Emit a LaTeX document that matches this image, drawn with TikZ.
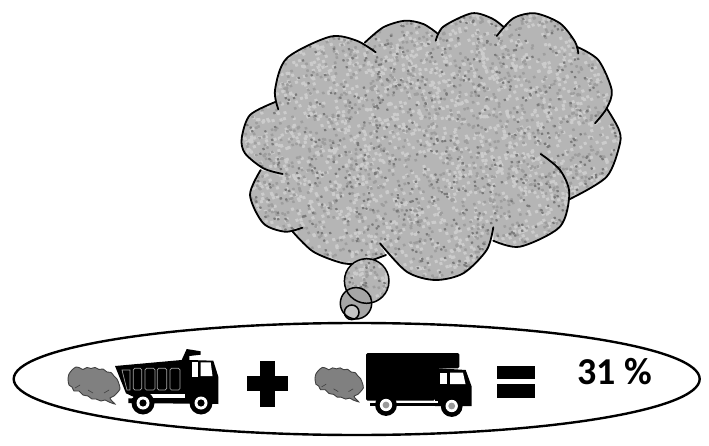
\documentclass[tikz,border=0pt]{standalone}
\usepackage{fontspec}
\usepackage{xcolor}
\usepackage{tikz}
\usetikzlibrary{shapes.geometric}
\newfontfamily\labelfont{Carlito}
\definecolor{cloudbase}{gray}{0.71}
\tikzset{
  oval/.style={ellipse, draw=black, line width=2.4pt, fill=white, minimum width=686pt, minimum height=112pt, inner sep=0pt},
  result/.style={font=\labelfont\fontsize{38}{42}\selectfont\bfseries, text=black, inner sep=0pt},
  lobe/.style={draw=black, line width=1.8pt, line cap=round},
  bubble/.style={draw=black, line width=1.5pt},
  solid black/.style={fill=black, draw=none},
  pics/smoke/.style={code={
    \draw[fill=black!50, draw=black!75, line width=0.9pt] plot[smooth cycle, tension=0.45] coordinates {(0,13) (1,8) (4,4) (8,1) (12,2) (15,3.5) (19,1.5) (23,2.5) (27,1.5) (31,3.5) (35,3) (39,6) (43,6.5) (46,10) (49,13) (51,18) (52,23) (49,27) (46,30) (42,32) (44,35) (47,38) (41,36) (37,34) (33,35) (28,33) (24,33) (20,30) (15,29) (11,25) (6,25) (4,21) (1,19)};
    \draw[black!75, line width=0.6pt] (7,22) -- (12,19) (20,24) -- (25,27) (36,27) -- (41,24);
  }},
  pics/wheel/.style={code={
    \fill[black] (0,0) circle[radius=11.5pt];
    \fill[white] (0,0) circle[radius=6.5pt];
    \fill[#1] (0,0) circle[radius=3.6pt];
  }},
}
% one grey band of round dots: x0 x1 y0 y1 count
\newcommand{\speckle}[5]{%
  \foreach \i in {1,...,#5} {
    \pgfmathsetmacro{\px}{#1+(#2-#1)*rnd}
    \pgfmathsetmacro{\py}{#3+(#4-#3)*rnd}
    \draw (\px,\py) -- ++(0.6,0.3);
  }}
\newcommand{\lobeA}{(364.7,42.7) (383.3,27.3) (405,20.7) (423.3,24) (437.3,33.3)}
\newcommand{\lobeB}{(435.7,40.7) (443.3,26.7) (471.7,13.3) (491.7,18.3) (503.3,26.7)}
\newcommand{\lobeC}{(496.7,36) (513.3,18.3) (535,13.3) (560,23.3) (575,41.7) (578.3,53.3)}
\newcommand{\lobeD}{(576.7,46.7) (598.3,60) (611.7,90) (606.7,108.3) (595,123.3)}
\newcommand{\lobeE}{(606.7,108.3) (618.3,128.3) (620,143.3) (606.7,176.7) (570,199)}
\newcommand{\lobeF}{(540.7,154) (560,170) (569.3,193.3) (560,226.7) (520,246.7) (493.3,240.7)}
\newcommand{\lobeG}{(493.3,227.3) (486.7,250) (463.3,273.3) (435,280) (406.7,271.7) (380,243.3)}
\newcommand{\lobeH}{(386,255) (363.3,262.7) (343.3,263.3) (313.3,251.7) (292.7,231.7)}
\newcommand{\lobeI}{(302.3,227.7) (285,231.7) (263.3,223.3) (250,195) (260.7,170)}
\newcommand{\lobeJ}{(282.7,174) (263.3,168.3) (245,153.3) (241.7,138.3) (250,115) (276,101.7)}
\newcommand{\lobeK}{(278.3,109.3) (275,90) (286.7,58.3) (330,36.7) (356.7,40.7) (375.7,52.3)}
\begin{document}
\begin{tikzpicture}[x=1pt, y=-1pt]
\useasboundingbox (0,0) rectangle (709,446);
\pgfmathsetseed{11}
% ---- Cloud ----
\begin{scope}
\path[clip] plot[smooth] coordinates {\lobeA} -- plot[smooth] coordinates {\lobeB} -- plot[smooth] coordinates {\lobeC}
  -- plot[smooth] coordinates {\lobeD} -- plot[smooth] coordinates {\lobeE} -- plot[smooth] coordinates {\lobeF}
  -- plot[smooth] coordinates {\lobeG} -- plot[smooth] coordinates {\lobeH} -- plot[smooth] coordinates {\lobeI}
  -- plot[smooth] coordinates {\lobeJ} -- plot[smooth] coordinates {\lobeK} -- cycle;
\fill[cloudbase] (235,5) rectangle (625,285);
\foreach \g/\w/\n in {20/3.6/2400,38/3/1500,52/2.5/800} {
  \begin{scope}[draw=black!\g, line width=\w pt, line cap=round]
  \speckle{238}{624}{10}{284}{\n}
  \end{scope}
}
\end{scope}
\foreach \l in {\lobeA,\lobeB,\lobeC,\lobeD,\lobeE,\lobeF,\lobeG,\lobeH,\lobeI,\lobeJ,\lobeK}
  \draw[lobe] plot[smooth] coordinates {\l};
% ---- Bubbles ----
\begin{scope}
\path[clip] (366.7,281) circle[radius=22.3pt];
\fill[cloudbase] (340,255) rectangle (392,306);
\foreach \g/\w/\n in {20/3.6/70,38/3/45,52/2.5/25} {
  \begin{scope}[draw=black!\g, line width=\w pt, line cap=round]
  \speckle{342}{392}{256}{306}{\n}
  \end{scope}
}
\end{scope}
\fill[black!35] (356,303.3) circle[radius=15.7pt];
\fill[black!22] (351.7,312.3) circle[radius=7.3pt];
\draw[bubble] (366.7,281) circle[radius=22.3pt];
\draw[bubble] (356,303.3) circle[radius=15.7pt];
\draw[bubble] (351.7,312.3) circle[radius=7.3pt];
% ---- Oval ----
\node[oval] (band) at (356.7,379) {};
% ---- Dump truck ----
\pic at (68,366) {smoke};
\fill[solid black] (115,366) -- (181.7,360) -- (186.7,349) -- (200.7,351.3) -- (200.7,354.7) -- (189.3,356) -- (189.3,360)
  -- (213.3,360.7) -- (218.3,376.7) -- (218.3,404) -- (128.3,403) -- (128.3,398.5) -- (136,398) -- (126,393.3) -- cycle;
\fill[white] (191.7,361.7) rectangle (198.3,376.7);
\fill[white] (200.7,362.3) -- (210.7,362.3) -- (212.5,376) -- (200.7,376) -- cycle;
\fill[white] (150,393.5) -- (185,393.5) -- (185,398) -- (150,398) -- cycle;
\foreach \xa/\xb in {133.3/141.7,145/155,157.3/166.7,170/180}
  \draw[black!35, line width=0.7pt, rounded corners=1.5pt] (\xa,368.3) rectangle (\xb,390);
\draw[black!35, line width=0.7pt] (122,370) -- (130,370) -- (130,390) -- (127,390) -- cycle;
\pic at (143,403) {wheel=black};
\pic at (201,403) {wheel=black};
% ---- Plus ----
\fill[solid black] (260,360.7) rectangle (275.3,406.7);
\fill[solid black] (247.3,376) rectangle (288,390.7);
% ---- Box truck ----
\pic[scale=0.93] at (315,366.5) {smoke};
\fill[solid black, rounded corners=1.5pt] (366,353) -- (459.3,353) -- (459.3,368.3) -- (435,368.3) -- (435,400.7) -- (366,400.7) -- cycle;
\fill[solid black] (435,368) -- (465.7,370) -- (471.7,386.7) -- (471.7,406) -- (435,406) -- cycle;
\fill[solid black] (370,403) rectangle (440,406);
\fill[white] (440,372.7) rectangle (447.3,384);
\fill[white] (450,372.7) -- (463,372.7) -- (465.5,384) -- (450,384) -- cycle;
\fill[white] (396,400.7) rectangle (438,403);
\pic[scale=0.95] at (386,405) {wheel=black!40};
\pic[scale=0.95] at (451.7,406) {wheel=black!40};
% ---- Equals ----
\fill[solid black] (496.7,366) rectangle (535,379.3);
\fill[solid black] (496.7,384) rectangle (535,398.3);
% ---- Result ----
\node[result] (pct) at (614.5,372) {31 \%};
\end{tikzpicture}
\end{document}
